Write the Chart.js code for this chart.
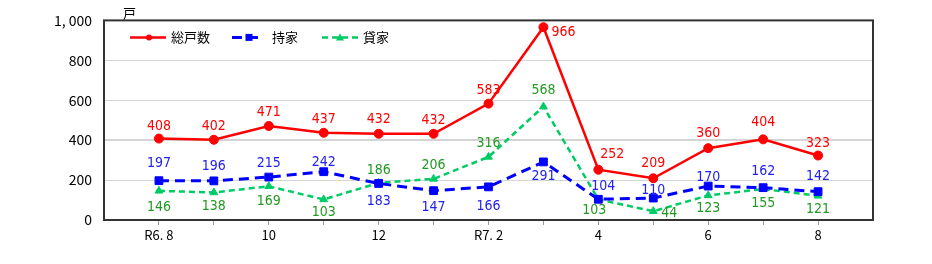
<!DOCTYPE html>
<html><head><meta charset="utf-8">
<script src="https://cdn.jsdelivr.net/npm/chart.js@4"></script>
<style>html,body{margin:0;padding:0;background:#fff}#wrap{width:932px;height:264px}</style>
</head><body><div id="wrap"><canvas id="c"></canvas></div>
<script>
const categories = ['R6. 8','9','10','11','12','1','R7. 2','3','4','5','6','7','8'];
const totalUnits = [408,402,471,437,432,432,583,966,252,209,360,404,323];
const ownedUnits = [197,196,215,242,183,147,166,291,104,110,170,162,142];
const rentalUnits = [146,138,169,103,186,206,316,568,103,44,123,155,121];
const seriesNames = ['総戸数','持家','貸家'];
const yUnit = '戸';

// label offsets [dx, dy] in px (style only)
const totalLabelOff = [[0,-12],[0,-13],[0,-14],[0,-13],[0,-14],[0,-13],[0,-13],[20,5],[14,-15],[0,-15],[0,-15],[0,-17],[0,-12]];
const ownedLabelOff = [[0,-17],[0,-15],[0,-14],[0,-9],[0,18],[0,17],[0,19],[0,14],[5,-13],[0,-8],[0,-9],[0,-16],[0,-15]];
const rentalLabelOff = [[0,17],[0,14],[0,15],[0,13],[0,-13],[0,-14],[0,-14],[0,-16],[-4,11],[16,2],[0,13],[0,14],[0,14]];

const toPts = arr => arr.map((v,i)=>({x:i,y:v}));
const LBL_FONT = '14px "Liberation Sans Narrow", "DejaVu Sans Condensed", sans-serif';
const AX_FONT = '"Noto Sans CJK JP", sans-serif';

const frame = {
  id:'frame',
  beforeDatasetsDraw(chart){
    const {ctx, chartArea:a} = chart;
    ctx.save();
    ctx.strokeStyle='#333'; ctx.lineWidth=2;
    ctx.strokeRect(a.left, a.top, a.right-a.left, a.bottom-a.top);
    ctx.fillStyle='#000'; ctx.font='13px '+AX_FONT; ctx.textBaseline='bottom'; ctx.textAlign='left';
    ctx.fillText(yUnit, a.left+19, a.top-1);
    ctx.restore();
  },
  afterDatasetsDraw(chart){
    const {ctx} = chart;
    const offs=[totalLabelOff, ownedLabelOff, rentalLabelOff];
    const cols=['#ff0000','#2222ee','#229922'];
    ctx.save();
    ctx.font=LBL_FONT; ctx.textAlign='center'; ctx.textBaseline='middle';
    chart.data.datasets.forEach((ds,di)=>{
      const meta=chart.getDatasetMeta(di);
      ctx.fillStyle=cols[di];
      meta.data.forEach((p,i)=>{
        const o=offs[di][i];
        ctx.fillText(String(ds.data[i].y), p.x+o[0], p.y+o[1]);
      });
    });
    // legend
    const a=chart.chartArea;
    const ly=a.top+17;
    const items=[{x0:130,x1:166,mx:149,tx:171},{x0:232,x1:262,mx:249,tx:272},{x0:322,x1:358,mx:340,tx:363}];
    chart.data.datasets.forEach((ds,di)=>{
      const it=items[di];
      ctx.strokeStyle=ds.borderColor; ctx.lineWidth=ds.borderWidth; ctx.setLineDash(ds.borderDash||[]);
      ctx.beginPath(); ctx.moveTo(it.x0,ly); ctx.lineTo(it.x1,ly); ctx.stroke();
      ctx.setLineDash([]);
      ctx.fillStyle=ds.pointBackgroundColor;
      if(ds.pointStyle==='circle'){ctx.beginPath();ctx.arc(it.mx,ly,3,0,Math.PI*2);ctx.fill();}
      else if(ds.pointStyle==='rect'){ctx.fillRect(it.mx-3.5,ly-3.5,7,7);}
      else {ctx.beginPath();ctx.moveTo(it.mx,ly-4);ctx.lineTo(it.mx+4,ly+3);ctx.lineTo(it.mx-4,ly+3);ctx.closePath();ctx.fill();}
      ctx.fillStyle='#000'; ctx.font='13px '+AX_FONT; ctx.textAlign='left'; ctx.textBaseline='middle';
      ctx.fillText(ds.label, it.tx, ly);
    });
    ctx.restore();
  }
};

new Chart(document.getElementById('c'), {
  type:'line',
  data:{datasets:[
    {label:seriesNames[0], data:toPts(totalUnits), borderColor:'#ff0000', backgroundColor:'#ff0000', pointBackgroundColor:'#ff0000', pointBorderColor:'#ff0000', borderWidth:2.5, pointStyle:'circle', pointRadius:4.5, pointBorderWidth:1, tension:0},
    {label:seriesNames[1], data:toPts(ownedUnits), borderColor:'#0000ff', backgroundColor:'#0000ff', pointBackgroundColor:'#0000ff', pointBorderColor:'#0000ff', borderWidth:3, borderDash:[10,6], pointStyle:'rect', pointRadius:5.5, pointBorderWidth:1, tension:0},
    {label:seriesNames[2], data:toPts(rentalUnits), borderColor:'#00cc66', backgroundColor:'#00cc66', pointBackgroundColor:'#00cc66', pointBorderColor:'#00cc66', borderWidth:2.5, borderDash:[6,4], pointStyle:'triangle', pointRadius:4.5, pointBorderWidth:1, tension:0}
  ]},
  options:{
    responsive:true, maintainAspectRatio:false, animation:false,
    layout:{padding:{top:19,right:59,left:0,bottom:0}},
    plugins:{legend:{display:false}, tooltip:{enabled:false}},
    scales:{
      x:{type:'linear', min:-1, max:13,
        afterBuildTicks(s){ s.ticks = categories.map((c,i)=>({value:i})); },
        afterFit(s){ s.height=44; },
        ticks:{autoSkip:false, maxRotation:0, padding:2, color:'#000', font:{family:AX_FONT,size:13},
          callback:(v)=> (v%2===0 ? categories[v] : '')},
        grid:{drawOnChartArea:false, drawTicks:true, tickLength:5, tickColor:'#999'},
        border:{display:false}},
      y:{min:0, max:1000,
        afterFit(s){ s.width=104; },
        ticks:{stepSize:200, padding:12, color:'#000', font:{family:AX_FONT,size:14},
          callback:(v)=> v>=1000 ? Math.floor(v/1000)+', '+String(v%1000).padStart(3,'0') : String(v)},
        grid:{drawTicks:false, color:'#d4d4d4', lineWidth:(c)=> c.tick && c.tick.value===400 ? 2 : 1},
        border:{display:false}}
    }
  },
  plugins:[frame]
});
</script></body></html>
